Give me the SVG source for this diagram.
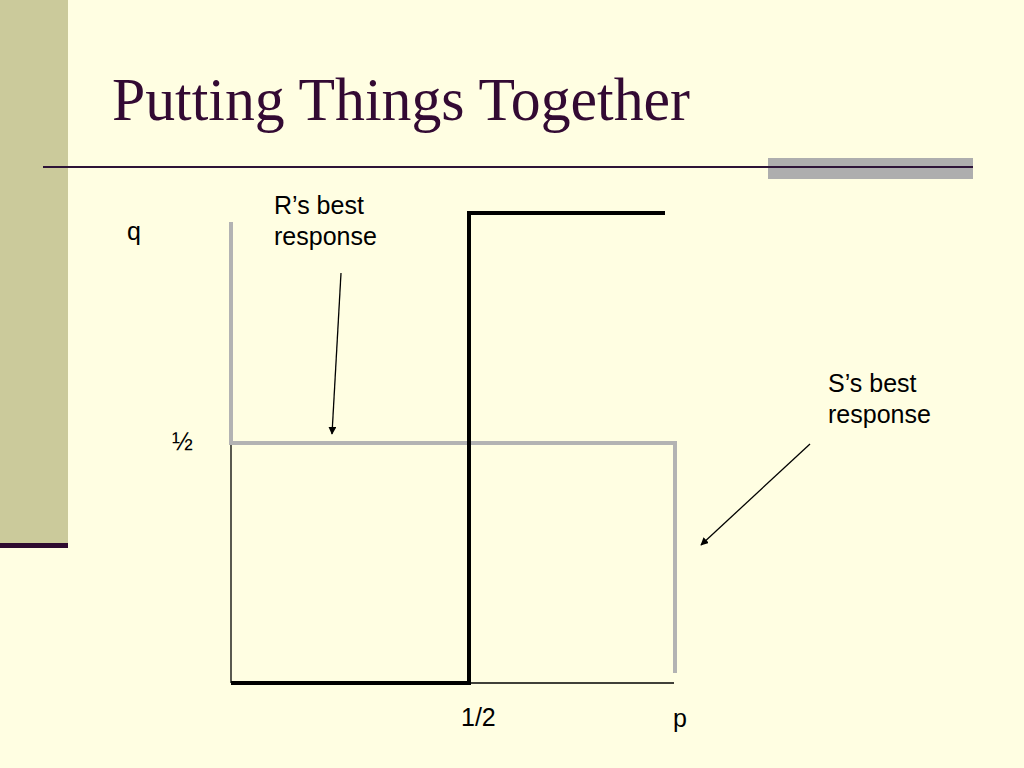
<svg xmlns="http://www.w3.org/2000/svg" width="1024" height="768" viewBox="0 0 1024 768">
<defs>
<style>
.lbl{font-family:"Liberation Sans",Arial,sans-serif;font-size:25px;fill:#000}
.gray{stroke:#B3B3B3;stroke-width:4;fill:none}
.thick{stroke:#000;stroke-width:4;fill:none}
.thin{stroke:#000;stroke-width:1.3;fill:none}
.ptr{stroke:#000;stroke-width:1.3;fill:none;marker-end:url(#ah)}
</style>
<marker id="ah" viewBox="0 0 10 10" refX="9" refY="5" markerWidth="8" markerHeight="8" orient="auto" markerUnits="userSpaceOnUse">
<path d="M0,0 L10,5 L0,10 z" fill="#000"/>
</marker>
</defs>
<rect width="1024" height="768" fill="#FFFEE2"/>
<g id="frame">
<rect x="0" y="0" width="68" height="544" fill="#CBCA9B"/>
<rect x="0" y="543" width="68" height="5" fill="#2E0A30"/>
<rect x="768" y="158" width="205" height="21" fill="#AEAEAE"/>
<line x1="43" y1="167" x2="973" y2="167" stroke="#2E1438" stroke-width="2"/>
<text x="112" y="120" font-family="'Liberation Serif','Times New Roman',serif" font-size="61" textLength="578" lengthAdjust="spacingAndGlyphs" fill="#330A33">Putting Things Together</text>
</g>
<g id="axes">
<line class="thin" x1="231" y1="443" x2="231" y2="683"/>
<line class="thin" x1="469" y1="683" x2="674" y2="683"/>
</g>
<g id="s-best-response">
<polyline class="gray" points="231,222 231,443 675,443 675,673"/>
</g>
<g id="r-best-response">
<polyline class="thick" points="231,683 469,683 469,213 665,213"/>
</g>
<g id="connectors">
<line class="ptr" x1="341" y1="273" x2="332" y2="434"/>
<line class="ptr" x1="810" y1="444" x2="701" y2="545"/>
</g>
<g id="labels">
<text class="lbl" x="127" y="240">q</text>
<text class="lbl" x="172" y="450">½</text>
<text class="lbl" x="274" y="214">R’s best</text>
<text class="lbl" x="274" y="245">response</text>
<text class="lbl" x="828" y="392">S’s best</text>
<text class="lbl" x="828" y="423">response</text>
<text class="lbl" x="461" y="726">1/2</text>
<text class="lbl" x="673" y="727">p</text>
</g>
</svg>
